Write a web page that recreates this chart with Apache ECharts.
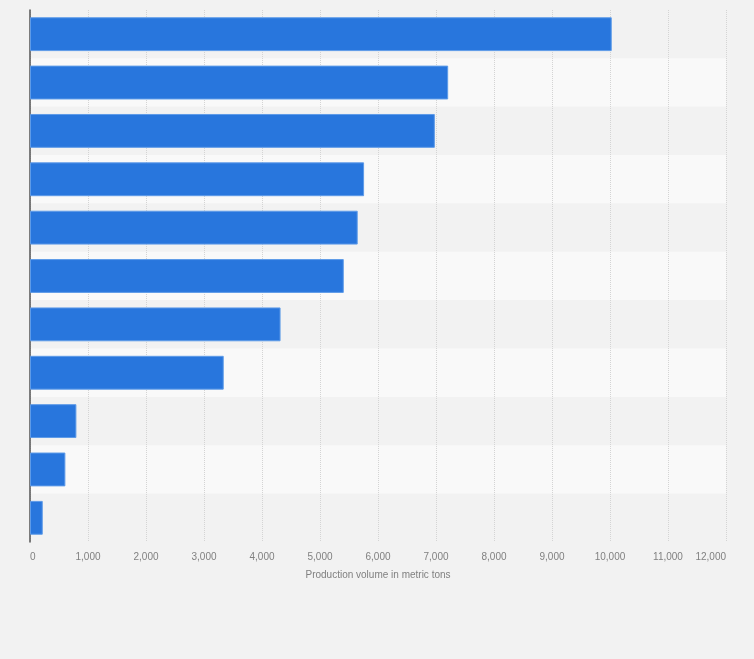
<!DOCTYPE html>
<html>
<head>
<meta charset="utf-8">
<script src="https://cdn.jsdelivr.net/npm/echarts@6/dist/echarts.min.js"></script>
<style>
html,body{margin:0;padding:0;background:#f2f2f2;}
#chart{width:754px;height:659px;}
</style>
</head>
<body>
<div id="chart"></div>
<script>
const categories = ['1','2','3','4','5','6','7','8','9','10','11'];
const values = [10030, 7210, 6980, 5760, 5650, 5410, 4320, 3340, 800, 610, 220];
const xTicks = {min: 0, max: 12000, interval: 1000};
const xAxisTitle = 'Production volume in metric tons';

const chart = echarts.init(document.getElementById('chart'), null, {renderer: 'canvas'});
chart.setOption({
  backgroundColor: '#f2f2f2',
  animation: false,
  grid: {left: 30, right: 28, top: 10, bottom: 117, containLabel: false},
  xAxis: {
    type: 'value',
    min: xTicks.min, max: xTicks.max, interval: xTicks.interval,
    name: xAxisTitle,
    nameLocation: 'middle',
    nameGap: 28,
    nameTextStyle: {color: '#808080', fontSize: 10, fontFamily: 'Liberation Sans, Arial, sans-serif'},
    axisLine: {show: false},
    axisTick: {show: false},
    axisLabel: {
      color: '#808080', fontSize: 10, margin: 10,
      fontFamily: 'Liberation Sans, Arial, sans-serif',
      alignMinLabel: 'left', alignMaxLabel: 'right',
      formatter: v => v.toLocaleString('en-US')
    },
    splitLine: {show: true, lineStyle: {color: '#d4d4d4', type: [1, 1], width: 1}}
  },
  yAxis: {
    type: 'category',
    data: categories,
    inverse: true,
    axisLine: {show: true, lineStyle: {color: '#555', width: 1.5}},
    axisTick: {show: false},
    axisLabel: {show: false},
    splitLine: {show: false},
    splitArea: {show: true, areaStyle: {color: ['#f2f2f2', '#f9f9f9']}}
  },
  series: [{
    type: 'bar',
    data: values,
    barCategoryGap: '30%',
    itemStyle: {color: '#2876dd', borderColor: '#5e9be8', borderWidth: 1}
  }]
});
</script>
</body>
</html>
